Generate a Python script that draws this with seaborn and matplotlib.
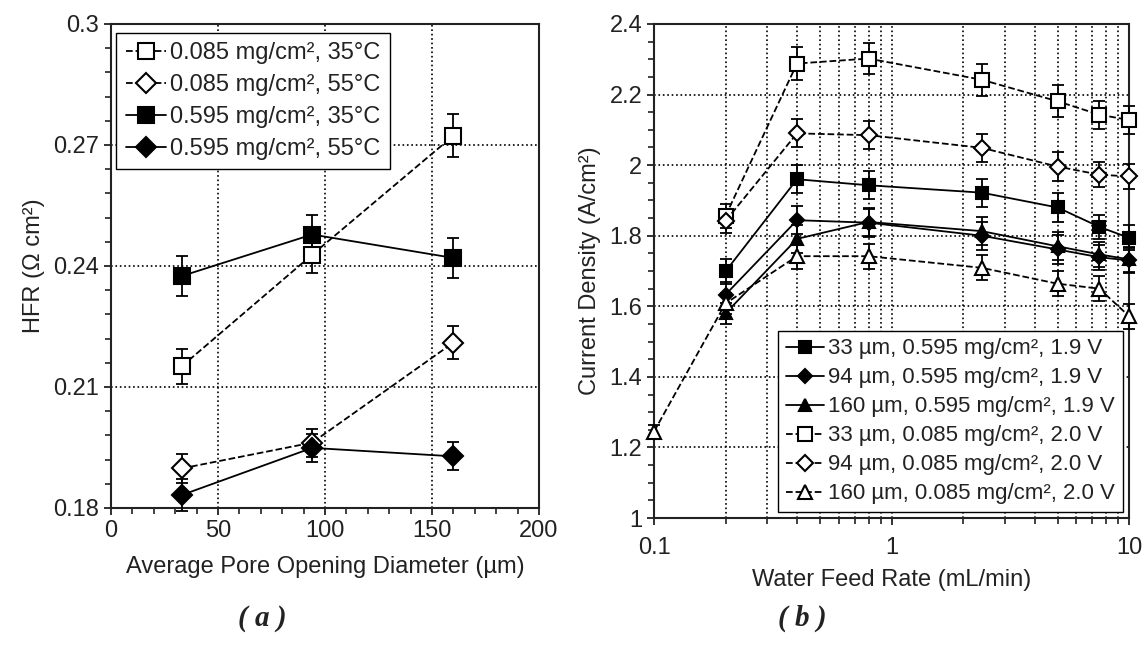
import seaborn as sns
import matplotlib.pyplot as plt
import matplotlib.ticker as mticker

# panel (a): HFR vs pore opening diameter
pore_um = [33, 94, 160]
hfr_085_35 = [0.2151, 0.2428, 0.2723]
hfr_085_55 = [0.1898, 0.1962, 0.2210]
hfr_595_35 = [0.2375, 0.2478, 0.2420]
hfr_595_55 = [0.1832, 0.1949, 0.1928]
err_085_35 = [0.0043, 0.0045, 0.0053]
err_085_55 = [0.0035, 0.0035, 0.0040]
err_595_35 = [0.0050, 0.0048, 0.0050]
err_595_55 = [0.0040, 0.0035, 0.0035]

# panel (b): current density vs water feed rate
feed = [0.2, 0.4, 0.8, 2.4, 5, 7.5, 10]
feed_160_085 = [0.1, 0.2, 0.4, 0.8, 2.4, 5, 7.5, 10]
cd_33_595 = [1.699, 1.960, 1.943, 1.922, 1.880, 1.825, 1.794]
cd_94_595 = [1.633, 1.844, 1.837, 1.800, 1.761, 1.739, 1.730]
cd_160_595 = [1.580, 1.791, 1.839, 1.813, 1.770, 1.747, 1.733]
cd_33_085 = [1.856, 2.288, 2.302, 2.242, 2.181, 2.143, 2.128]
cd_94_085 = [1.842, 2.090, 2.085, 2.049, 1.996, 1.973, 1.968]
cd_160_085 = [1.245, 1.608, 1.742, 1.742, 1.709, 1.664, 1.650, 1.572]
e_33_595 = [0.035, 0.040, 0.040, 0.040, 0.040, 0.035, 0.035]
e_94_595 = [0.035, 0.040, 0.040, 0.040, 0.040, 0.035, 0.035]
e_160_595 = [0.030, 0.040, 0.040, 0.040, 0.040, 0.035, 0.035]
e_33_085 = [0.035, 0.047, 0.045, 0.045, 0.045, 0.040, 0.040]
e_94_085 = [0.035, 0.040, 0.040, 0.040, 0.040, 0.035, 0.035]
e_160_085 = [0.020, 0.030, 0.035, 0.035, 0.035, 0.035, 0.035, 0.035]

sns.set_style("white")
plt.rcParams['font.family'] = ['Liberation Sans', 'DejaVu Sans']
plt.rcParams['text.color'] = '#222222'
plt.rcParams['axes.labelcolor'] = '#222222'
plt.rcParams['xtick.color'] = '#222222'
plt.rcParams['ytick.color'] = '#222222'

fig = plt.figure(figsize=(11.46, 6.52), dpi=100)
ax1 = fig.add_axes([0.0969, 0.2209, 0.3734, 0.7423])
ax2 = fig.add_axes([0.5707, 0.2055, 0.4145, 0.7577])


def series(ax, x, y, err, label, marker, filled, dashed, ms):
    sns.lineplot(x=x, y=y, ax=ax, color='black', marker=marker, markersize=ms,
                 markerfacecolor='black' if filled else 'white', markeredgecolor='black',
                 markeredgewidth=1.5, linestyle='--' if dashed else '-', linewidth=1.3,
                 label=label, zorder=4, clip_on=False)
    ax.errorbar(x, y, yerr=err, fmt='none', ecolor='black', elinewidth=1.3,
                capsize=4, capthick=1.3, zorder=3, clip_on=False)


series(ax1, pore_um, hfr_085_35, err_085_35, "0.085 mg/cm², 35°C", 's', False, True, 12)
series(ax1, pore_um, hfr_085_55, err_085_55, "0.085 mg/cm², 55°C", 'D', False, True, 10)
series(ax1, pore_um, hfr_595_35, err_595_35, "0.595 mg/cm², 35°C", 's', True, False, 12)
series(ax1, pore_um, hfr_595_55, err_595_55, "0.595 mg/cm², 55°C", 'D', True, False, 10)

ax1.set_xlim(0, 200)
ax1.set_ylim(0.18, 0.3)
ax1.xaxis.set_major_locator(mticker.MultipleLocator(50))
ax1.xaxis.set_minor_locator(mticker.MultipleLocator(10))
ax1.yaxis.set_major_locator(mticker.MultipleLocator(0.03))
ax1.yaxis.set_minor_locator(mticker.MultipleLocator(0.006))
ax1.yaxis.set_major_formatter(mticker.FormatStrFormatter('%g'))
ax1.set_xlabel("Average Pore Opening Diameter (µm)", fontsize=17, labelpad=10)
ax1.set_ylabel("HFR (Ω cm²)", fontsize=17, labelpad=6)
ax1.grid(True, which='major', linestyle=':', color='black', linewidth=1.2)
ax1.legend(loc='upper left', bbox_to_anchor=(0.012, 0.982), fontsize=17, frameon=True,
           fancybox=False, edgecolor='black', framealpha=1, handlelength=1.7,
           handletextpad=0.2, labelspacing=0.42, borderpad=0.4, borderaxespad=0)

series(ax2, feed, cd_33_595, e_33_595, "33 µm, 0.595 mg/cm², 1.9 V", 's', True, False, 9)
series(ax2, feed, cd_94_595, e_94_595, "94 µm, 0.595 mg/cm², 1.9 V", 'D', True, False, 7)
series(ax2, feed, cd_160_595, e_160_595, "160 µm, 0.595 mg/cm², 1.9 V", '^', True, False, 9)
series(ax2, feed, cd_33_085, e_33_085, "33 µm, 0.085 mg/cm², 2.0 V", 's', False, True, 10)
series(ax2, feed, cd_94_085, e_94_085, "94 µm, 0.085 mg/cm², 2.0 V", 'D', False, True, 8)
series(ax2, feed_160_085, cd_160_085, e_160_085, "160 µm, 0.085 mg/cm², 2.0 V", '^', False, True, 10)

ax2.set_xscale('log')
ax2.set_xlim(0.1, 10)
ax2.set_ylim(1, 2.4)
ax2.xaxis.set_major_formatter(mticker.FormatStrFormatter('%g'))
ax2.xaxis.set_minor_formatter(mticker.NullFormatter())
ax2.yaxis.set_major_locator(mticker.MultipleLocator(0.2))
ax2.yaxis.set_minor_locator(mticker.MultipleLocator(0.05))
ax2.yaxis.set_major_formatter(mticker.FormatStrFormatter('%g'))
ax2.set_xlabel("Water Feed Rate (mL/min)", fontsize=17, labelpad=7)
ax2.set_ylabel("Current Density (A/cm²)", fontsize=17, labelpad=6)
ax2.grid(True, which='major', axis='y', linestyle=':', color='black', linewidth=1.2)
ax2.grid(True, which='both', axis='x', linestyle=':', color='black', linewidth=1.2)
ax2.legend(loc='lower right', bbox_to_anchor=(0.987, 0.012), fontsize=16, frameon=True,
           fancybox=False, edgecolor='black', framealpha=1, handlelength=1.7,
           handletextpad=0.2, labelspacing=0.36, borderpad=0.35, borderaxespad=0)

for ax in (ax1, ax2):
    for s in ax.spines.values():
        s.set_color('#222222')
        s.set_linewidth(1.5)
    ax.tick_params(which='major', direction='out', length=5, width=1.3, labelsize=17,
                   left=True, bottom=True)
    ax.tick_params(which='minor', direction='out', length=4, width=1.2, left=True, bottom=True)
ax2.tick_params(axis='x', which='major', pad=9)

fig.text(0.229, 0.04, "( a )", family=['Liberation Serif', 'DejaVu Serif'],
         style='italic', weight='bold', fontsize=21, ha='center')
fig.text(0.700, 0.04, "( b )", family=['Liberation Serif', 'DejaVu Serif'],
         style='italic', weight='bold', fontsize=21, ha='center')

fig.savefig("out.png", dpi=100)
